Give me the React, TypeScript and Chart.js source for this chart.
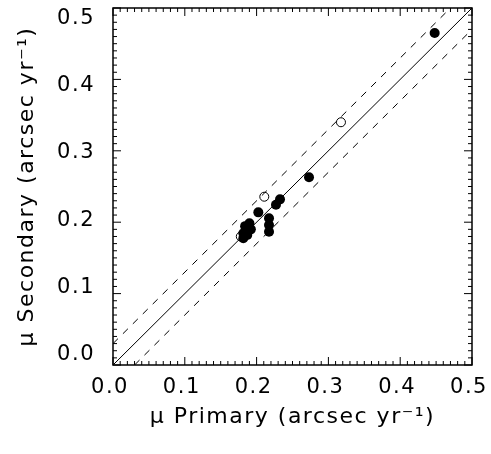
import React, { useEffect, useRef } from "react";
import { Chart, registerables } from "chart.js";

Chart.register(...registerables);

// Filled symbols (mu primary, mu secondary)
const filledX = [0.448, 0.273, 0.2326, 0.227, 0.2024, 0.2173, 0.2173, 0.2173, 0.19, 0.184, 0.192, 0.1815, 0.187, 0.1815];
const filledY = [0.465, 0.263, 0.232, 0.2245, 0.2138, 0.2055, 0.196, 0.1867, 0.1985, 0.1945, 0.19, 0.1845, 0.182, 0.1775];
// Open symbols
const openX = [0.3175, 0.2107, 0.178];
const openY = [0.34, 0.2357, 0.18];
// One-to-one line and +/- band
const unityX = [0, 0.5];
const unityY = [0, 0.5];
const upperX = [0, 0.47];
const upperY = [0.03, 0.5];
const lowerX = [0.03, 0.5];
const lowerY = [0, 0.47];
// Axis ticks
const tickValues = [0, 0.1, 0.2, 0.3, 0.4, 0.5];
const minorStep = 0.01;
const xTitle = "μ Primary (arcsec yr⁻¹)";
const yTitle = "μ Secondary (arcsec yr⁻¹)";

const pts = (xs: number[], ys: number[]) => xs.map((x, i) => ({ x, y: ys[i] }));

const textSpacing = {
  id: "textSpacing",
  beforeDraw(chart: any) {
    (chart.ctx as any).letterSpacing = "1.5px";
  },
};

const frameTicks = {
  id: "frameTicks",
  afterDraw(chart: any) {
    const { ctx, chartArea, scales } = chart;
    const { left, right, top, bottom } = chartArea;
    const x = scales.x;
    const y = scales.y;
    ctx.save();
    ctx.strokeStyle = "#000";
    ctx.lineWidth = 1;
    ctx.beginPath();
    const n = Math.round(0.5 / minorStep);
    for (let i = 0; i <= n; i++) {
      const v = i * minorStep;
      const len = i % 10 === 0 ? 8 : 4;
      const px = x.getPixelForValue(v);
      ctx.moveTo(px, bottom);
      ctx.lineTo(px, bottom - len);
      ctx.moveTo(px, top);
      ctx.lineTo(px, top + len);
      const py = y.getPixelForValue(v);
      ctx.moveTo(left, py);
      ctx.lineTo(left + len, py);
      ctx.moveTo(right, py);
      ctx.lineTo(right - len, py);
    }
    ctx.stroke();
    ctx.lineWidth = 1.5;
    ctx.strokeRect(left, top, right - left, bottom - top);
    ctx.restore();
  },
};

const noPad = (s: any) => {
  s.paddingTop = 0;
  s.paddingBottom = 0;
  s.paddingLeft = 0;
  s.paddingRight = 0;
};

export default function App() {
  const ref = useRef<HTMLCanvasElement | null>(null);
  useEffect(() => {
    document.body.style.margin = "0";
    if (!ref.current) return;
    Chart.defaults.font.family = "'DejaVu Sans', sans-serif";
    Chart.defaults.color = "#000";
    const chart = new Chart(ref.current, {
      type: "scatter",
      data: {
        datasets: [
          {
            label: "filled",
            data: pts(filledX, filledY),
            pointRadius: 5,
            pointBackgroundColor: "#000",
            pointBorderWidth: 0,
            showLine: false,
          },
          {
            label: "open",
            data: pts(openX, openY),
            pointRadius: 4.5,
            pointBackgroundColor: "rgba(0,0,0,0)",
            pointBorderColor: "#000",
            pointBorderWidth: 1,
            showLine: false,
          },
          {
            label: "unity",
            data: pts(unityX, unityY),
            showLine: true,
            pointRadius: 0,
            borderColor: "#000",
            borderWidth: 1,
          },
          {
            label: "upper",
            data: pts(upperX, upperY),
            showLine: true,
            pointRadius: 0,
            borderColor: "#000",
            borderWidth: 1,
            borderDash: [7, 7],
          },
          {
            label: "lower",
            data: pts(lowerX, lowerY),
            showLine: true,
            pointRadius: 0,
            borderColor: "#000",
            borderWidth: 1,
            borderDash: [7, 7],
          },
        ],
      },
      options: {
        animation: false,
        responsive: false,
        layout: { padding: { left: 0, top: 8, right: 19, bottom: 0 } },
        plugins: { legend: { display: false }, tooltip: { enabled: false } },
        scales: {
          x: {
            type: "linear",
            position: "bottom",
            min: 0,
            max: 0.5,
            grid: { display: false, drawTicks: false },
            border: { display: false },
            afterBuildTicks: (s: any) => {
              s.ticks = tickValues.map((v) => ({ value: v }));
            },
            afterFit: (s: any) => {
              s.height = 89;
              noPad(s);
            },
            ticks: {
              font: { size: 21 },
              padding: 10,
              labelOffset: -3,
              maxRotation: 0,
              callback: (v: any) => Number(v).toFixed(1),
            },
            title: {
              display: true,
              text: xTitle,
              font: { size: 22 },
              padding: { top: 0, bottom: 24 },
            },
          },
          y: {
            type: "linear",
            position: "left",
            display: false,
            min: 0,
            max: 0.5,
          },
          yLabels: {
            type: "linear",
            position: "left",
            min: -0.015,
            max: 0.515,
            grid: { display: false, drawTicks: false },
            border: { display: false },
            afterBuildTicks: (s: any) => {
              s.ticks = tickValues.map((v) => ({ value: v }));
            },
            afterFit: (s: any) => {
              s.width = 113;
              noPad(s);
            },
            ticks: {
              font: { size: 21 },
              padding: 18,
              callback: (v: any) => Number(v).toFixed(1),
            },
            title: {
              display: true,
              text: yTitle,
              font: { size: 22 },
              padding: { top: 14, bottom: 0 },
            },
          },
        },
      },
      plugins: [textSpacing, frameTicks],
    });
    return () => chart.destroy();
  }, []);
  return (
    <div style={{ width: 491, height: 454 }}>
      <canvas ref={ref} width={491} height={454} />
    </div>
  );
}
